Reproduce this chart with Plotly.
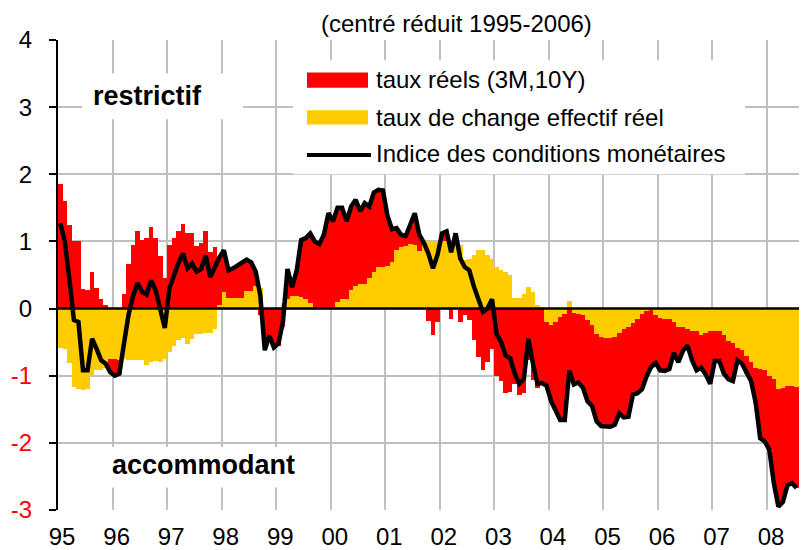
import plotly.graph_objects as go

# monthly data, Jan 1995 .. Jul 2008
year_labels = ["95", "96", "97", "98", "99", "00", "01", "02", "03", "04", "05", "06", "07", "08"]

# taux réels (3M,10Y)
taux_reels = [
    1.85, 1.6, 1.25, 1.0, 1.0, 0.29, 0.28, 0.54, 0.31, 0.14, 0.06, -0.2,
    -0.25, -0.2, 0.22, 0.67, 0.95, 1.15, 1.02, 1.05, 1.22, 1.05, 0.79, 0.46,
    0.95, 1.05, 1.15, 1.26, 1.13, 1.12, 0.93, 0.97, 1.16, 0.84, 0.92, 0.71,
    0.63, 0.41, 0.44, 0.49, 0.54, 0.47, 0.43, 0.21, -0.1, -0.62, -0.4, -0.58,
    -0.55, -0.27, 0.44, 0.13, 0.37, 0.85, 0.91, 1.03, 1.0, 0.96, 1.1, 1.42,
    1.3, 1.4, 1.36, 1.16, 1.24, 1.29, 1.09, 1.21, 1.07, 1.18, 1.15, 1.14,
    0.74, 0.48, 0.33, 0.18, 0.15, 0.29, 0.47, 0.24, 0.0, -0.18, -0.4, -0.2,
    0.12, 0.15, -0.16, 0.12, -0.2, -0.1, -0.17, -0.47, -0.72, -0.92, -0.8, -0.6,
    -1.0, -1.08, -1.25, -1.24, -1.13, -1.28, -1.26, -0.77, -1.07, -1.18, -1.13, -0.95,
    -1.14, -1.32, -1.54, -1.58, -1.03, -1.06, -1.02, -1.08, -1.21, -1.2, -1.3, -1.33,
    -1.32, -1.32, -1.31, -1.19, -1.32, -1.34, -1.06, -1.11, -1.12, -0.98, -0.85, -0.71,
    -0.78, -0.78, -0.75, -0.46, -0.53, -0.36, -0.25, -0.43, -0.58, -0.48, -0.62, -0.78,
    -0.44, -0.44, -0.57, -0.57, -0.57, -0.19, -0.2, -0.27, -0.28, -0.52, -1.03, -1.06,
    -1.1, -1.55, -1.75, -1.7, -1.48, -1.45, -1.5,
]

# taux de change effectif réel
taux_change = [
    -0.58, -0.6, -0.81, -1.17, -1.2, -1.21, -1.2, -0.99, -0.91, -0.91, -0.88, -0.75,
    -0.75, -0.77, -0.75, -0.77, -0.77, -0.77, -0.77, -0.84, -0.8, -0.78, -0.8, -0.75,
    -0.65, -0.55, -0.47, -0.44, -0.53, -0.45, -0.38, -0.38, -0.37, -0.37, -0.3, 0.05,
    0.24, 0.16, 0.16, 0.16, 0.16, 0.26, 0.26, 0.34, 0.3, 0.0, 0.0, 0.0,
    0.03, 0.08, 0.15, 0.19, 0.19, 0.17, 0.14, 0.09, 0.0, 0.0, 0.0, 0.0,
    0.0, 0.1, 0.14, 0.14, 0.28, 0.33, 0.36, 0.36, 0.45, 0.55, 0.62, 0.62,
    0.64, 0.7, 0.87, 0.92, 0.93, 0.96, 0.95, 0.86, 0.98, 1.0, 1.0, 1.0,
    1.0, 1.0, 1.0, 1.0, 0.95, 0.72, 0.74, 0.8, 0.87, 0.87, 0.8, 0.74,
    0.62, 0.58, 0.55, 0.5, 0.16, 0.16, 0.21, 0.32, 0.25, 0.06, 0.02, -0.2,
    -0.24, -0.2, -0.12, -0.08, 0.11, -0.07, -0.08, -0.1, -0.17, -0.25, -0.38, -0.42,
    -0.44, -0.44, -0.42, -0.37, -0.3, -0.27, -0.22, -0.15, -0.08, -0.03, -0.02, -0.1,
    -0.14, -0.15, -0.15, -0.2, -0.27, -0.27, -0.3, -0.34, -0.34, -0.4, -0.36, -0.34,
    -0.34, -0.34, -0.4, -0.48, -0.51, -0.58, -0.62, -0.7, -0.8, -0.88, -0.9, -0.92,
    -1.0, -1.05, -1.2, -1.18, -1.15, -1.15, -1.17,
]

# indice des conditions monétaires = somme des deux composantes
icm = [round(r + c, 2) for r, c in zip(taux_reels, taux_change)]
months = list(range(len(taux_reels)))

FONT = "Liberation Sans, Arial, sans-serif"
RED = "#FF0000"
YELLOW = "#FFCC00"
GRID = "#C0C0C0"

# the page body has an 8px margin, so the figure is made 8px smaller
# and the plot area lands on 58..807 x 40..502 of the window
PX_PER_MONTH = 4.545
def px_x(px):
    return (px - 58) / PX_PER_MONTH - 0.5

def px_y(py):
    return (304 - py) / 66.0

fig = go.Figure()
fig.add_trace(go.Bar(x=months, y=taux_change, marker=dict(color=YELLOW, line=dict(width=0)),
                     name="taux de change effectif réel", showlegend=False))
fig.add_trace(go.Bar(x=months, y=taux_reels, marker=dict(color=RED, line=dict(width=0)),
                     name="taux réels (3M,10Y)", showlegend=False))
fig.add_trace(go.Scatter(x=months, y=icm, mode="lines", line=dict(color="black", width=4.5),
                         name="Indice des conditions monétaires", showlegend=False))

ytv = list(range(-3, 5))
ytt = [f'<span style="color:{RED}">{v}</span>' if v < 0 else str(v) for v in ytv]

shapes = [
    # zero line on top of bars
    dict(type="line", xref="paper", yref="y", x0=0, x1=1, y0=0, y1=0,
         line=dict(color="black", width=2.5), layer="above"),
    # white boxes behind texts
    dict(type="rect", xref="x", yref="y", x0=px_x(293), x1=px_x(745), y0=px_y(60), y1=px_y(172),
         fillcolor="white", line=dict(width=0), layer="above"),
    dict(type="rect", xref="x", yref="y", x0=px_x(82), x1=px_x(243), y0=px_y(73), y1=px_y(118),
         fillcolor="white", line=dict(width=0), layer="above"),
    dict(type="rect", xref="x", yref="y", x0=px_x(100), x1=px_x(300), y0=px_y(440), y1=px_y(480),
         fillcolor="white", line=dict(width=0), layer="above"),
    # legend swatches
    dict(type="rect", xref="x", yref="y", x0=px_x(307), x1=px_x(368), y0=px_y(72), y1=px_y(87),
         fillcolor=RED, line=dict(width=0), layer="above"),
    dict(type="rect", xref="x", yref="y", x0=px_x(307), x1=px_x(368), y0=px_y(109), y1=px_y(123),
         fillcolor=YELLOW, line=dict(width=0), layer="above"),
    dict(type="line", xref="x", yref="y", x0=px_x(307), x1=px_x(371), y0=px_y(153), y1=px_y(153),
         line=dict(color="black", width=4), layer="above"),
]

annotations = [
    dict(text="(centré réduit 1995-2006)", xref="x", yref="paper", x=px_x(457), y=1.0,
         yanchor="bottom", yshift=1, showarrow=False, font=dict(size=24, color="black")),
    dict(text="taux réels (3M,10Y)", xref="x", yref="y", x=px_x(374), y=px_y(79),
         xanchor="left", showarrow=False, font=dict(size=24, color="black")),
    dict(text="taux de change effectif réel", xref="x", yref="y", x=px_x(374), y=px_y(116),
         xanchor="left", showarrow=False, font=dict(size=24, color="black")),
    dict(text="Indice des conditions monétaires", xref="x", yref="y", x=px_x(374), y=px_y(152),
         xanchor="left", showarrow=False, font=dict(size=24, color="black")),
    dict(text="<b>restrictif</b>", xref="x", yref="y", x=px_x(147), y=px_y(95),
         showarrow=False, font=dict(size=27, color="black")),
    dict(text="<b>accommodant</b>", xref="x", yref="y", x=px_x(203), y=px_y(458),
         showarrow=False, font=dict(size=27, color="black")),
]

fig.update_layout(
    width=799, height=542,
    margin=dict(l=50, r=0, t=32, b=40),
    paper_bgcolor="white", plot_bgcolor="white",
    font=dict(family=FONT, size=24, color="black"),
    barmode="relative", bargap=0,
    shapes=shapes, annotations=annotations,
    showlegend=False,
    xaxis=dict(
        range=[-0.5, 164.3],
        tickmode="array",
        tickvals=[12 * k + 0.4 for k in range(len(year_labels))],
        ticktext=year_labels,
        showgrid=False, zeroline=False, showline=False, ticks="",
        ticklabelstandoff=10,
        automargin=False,
        minor=dict(tickvals=[12 * k - 0.5 for k in range(1, 15)], showgrid=True,
                   gridcolor=GRID, gridwidth=1.5, ticks=""),
        fixedrange=True,
    ),
    yaxis=dict(
        range=[-3, 4],
        tickmode="array", tickvals=ytv, ticktext=ytt,
        showgrid=True, gridcolor=GRID, gridwidth=1.5,
        zeroline=False,
        showline=True, linecolor="black", linewidth=2,
        ticks="outside", ticklen=7, tickwidth=2, tickcolor="black",
        ticklabelstandoff=12,
        automargin=False,
        fixedrange=True,
    ),
)

fig.write_html("out.html")
